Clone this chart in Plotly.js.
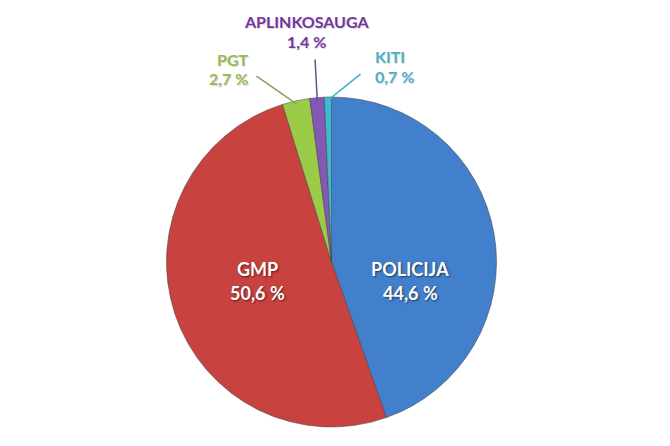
<!DOCTYPE html>
<html>
<head>
<meta charset="utf-8">
<script src="https://cdn.plot.ly/plotly-3.0.1.min.js"></script>
<style>
  html, body { margin: 0; padding: 0; background: #ffffff; }
  #chart { width: 670px; height: 446px; }
</style>
</head>
<body>
<div id="chart"></div>
<script>
const labels = ["POLICIJA", "GMP", "PGT", "APLINKOSAUGA", "KITI"];
const values = [44.6, 50.6, 2.7, 1.4, 0.7];
const colors = ["#4280cc", "#c8423f", "#9ccb48", "#8459b6", "#3fbad6"];
const textColors = ["#ffffff", "#ffffff", "#94bb55", "#7236a2", "#4bb0c8"];

const W = 670, H = 446;
const cx = 331.5, cy = 262, R = 165;

// pixel -> paper
const px = x => x / W;
const py = y => 1 - y / H;

const fmt = v => v.toFixed(1).replace(".", ",") + " %";

// where each label sits (pixels) and how it is anchored
const labelPos = [
    { x: 410, y: 269, dy: 24, anchor: "center", size: 18, shadow: "1px 1px 2px rgba(0,0,0,0.55)" },
    { x: 257, y: 269, dy: 24, anchor: "center", size: 18, shadow: "1px 1px 2px rgba(0,0,0,0.55)" },
    { x: 250, y: 59, dy: 20, anchor: "right", size: 16, shadow: "1px 1px 1px rgba(0,0,0,0.15)" },
    { x: 306, y: 21, dy: 20, anchor: "center", size: 16, shadow: "1px 1px 1px rgba(0,0,0,0.15)" },
    { x: 373, y: 56, dy: 20, anchor: "left", size: 16, shadow: "1px 1px 1px rgba(0,0,0,0.15)" }
];
// start of leader lines for the small slices
const leaderStart = [null, null, [255, 75], [315, 58], [362, 73]];
const leaderColors = [null, null, "#8c9e62", "#6b4b94", "#3fb2cc"];

const total = values.reduce((a, b) => a + b, 0);
const annotations = [];
let acc = 0;
values.forEach((v, i) => {
    const mid = (acc + v / 2) / total * 2 * Math.PI;
    acc += v;
    const p = labelPos[i];
    const font = { family: "Lato, 'Open Sans', sans-serif", size: p.size, color: textColors[i], weight: "bold", shadow: p.shadow };
    annotations.push({
        xref: "paper", yref: "paper", x: px(p.x), y: py(p.y),
        text: "<b>" + labels[i] + "</b>", showarrow: false,
        xanchor: p.anchor, yanchor: "middle", font: font
    });
    annotations.push({
        xref: "paper", yref: "paper", x: px(p.x), y: py(p.y + p.dy),
        text: "<b>" + fmt(v) + "</b>", showarrow: false,
        xanchor: p.anchor, yanchor: "middle", font: font
    });
    if (leaderStart[i]) {
        const tx = cx + R * 0.98 * Math.sin(mid);
        const ty = cy - R * 0.98 * Math.cos(mid);
        annotations.push({
            xref: "paper", yref: "paper", x: px(tx), y: py(ty),
            text: "", showarrow: true, arrowhead: 0, arrowwidth: 1.5,
            arrowcolor: leaderColors[i], standoff: 0, startstandoff: 0,
            ax: leaderStart[i][0] - tx, ay: leaderStart[i][1] - ty
        });
    }
});

const trace = {
    type: "pie",
    labels: labels,
    values: values,
    sort: false,
    direction: "clockwise",
    rotation: 0,
    textinfo: "none",
    hoverinfo: "label+percent",
    marker: { colors: colors, line: { color: "rgba(70,70,70,0.55)", width: 1 } },
    domain: { x: [px(cx - R), px(cx + R)], y: [py(cy + R), py(cy - R)] },
    showlegend: false
};

const layout = {
    width: W,
    height: H,
    margin: { l: 0, r: 0, t: 0, b: 0 },
    paper_bgcolor: "#ffffff",
    plot_bgcolor: "#ffffff",
    showlegend: false,
    annotations: annotations
};

Plotly.newPlot("chart", [trace], layout, { displayModeBar: false, staticPlot: true });
</script>
</body>
</html>
